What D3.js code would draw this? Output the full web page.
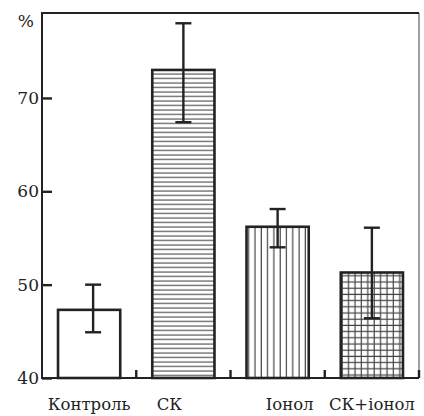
<!DOCTYPE html>
<html lang="uk">
<head>
<meta charset="UTF-8">
<title>Bar chart</title>
<script src="https://cdnjs.cloudflare.com/ajax/libs/d3/7.8.5/d3.min.js"></script>
<style>
  body { margin: 0; background: #fff; }
  svg { display: block; }
</style>
</head>
<body>
<svg id="viz"></svg>
<script>
const categories = ['Контроль', 'СК', 'Іонол', 'СК+іонол'];
const values = [47.3, 73.0, 56.2, 51.3];
const errLow = [44.9, 67.4, 54.0, 46.4];
const errHigh = [50.0, 78.0, 58.1, 56.1];
const yTicks = [40, 50, 60, 70];
const patterns = ['none', 'hlines', 'vlines', 'grid'];

const width = 424, height = 416;
const mLeft = 42, mRight = 419, mTop = 13, mBottom = 378;
const serif = 'DejaVu Serif';
// the labels in the original figure are not exactly centred under the bars
const labelShift = [0, -14, 12, 0];
const errShift = [4, 0, 0, 0];

const svg = d3.select('#viz').attr('width', width).attr('height', height);

// hatch patterns
const defs = svg.append('defs');
defs.append('pattern').attr('id', 'hlines')
  .attr('patternUnits', 'userSpaceOnUse').attr('width', 8).attr('height', 4.5)
  .append('line').attr('x1', 0).attr('x2', 8).attr('y1', 2).attr('y2', 2)
  .attr('stroke', '#555').attr('stroke-width', 1.2);
defs.append('pattern').attr('id', 'vlines')
  .attr('patternUnits', 'userSpaceOnUse').attr('width', 6.3).attr('height', 8)
  .append('line').attr('x1', 3).attr('x2', 3).attr('y1', 0).attr('y2', 8)
  .attr('stroke', '#444').attr('stroke-width', 1.2);
const g = defs.append('pattern').attr('id', 'grid')
  .attr('patternUnits', 'userSpaceOnUse').attr('width', 6.4).attr('height', 6.2);
g.append('line').attr('x1', 3).attr('x2', 3).attr('y1', 0).attr('y2', 6.2)
  .attr('stroke', '#444').attr('stroke-width', 1.2);
g.append('line').attr('x1', 0).attr('x2', 6.4).attr('y1', 3).attr('y2', 3)
  .attr('stroke', '#444').attr('stroke-width', 1.2);

const x = d3.scaleBand().domain(categories).range([mLeft, mRight]).paddingInner(0.34).paddingOuter(0.17);
const xBand = d3.scaleBand().domain(categories).range([mLeft, mRight]);
const y = d3.scaleLinear().domain([40, 79.1]).range([mBottom, mTop]);

// frame: dark left/top/bottom, lighter right edge
svg.append('line').attr('x1', mRight).attr('x2', mRight).attr('y1', mTop).attr('y2', mBottom)
  .attr('stroke', '#888').attr('stroke-width', 1.6);
svg.append('path')
  .attr('d', `M${mRight},${mTop}H${mLeft}V${mBottom}H${mRight}`)
  .attr('fill', 'none').attr('stroke', '#222').attr('stroke-width', 2);

// bars
svg.selectAll('rect.bar')
  .data(categories)
  .enter().append('rect')
  .attr('class', 'bar')
  .attr('x', d => x(d))
  .attr('y', (d, i) => y(values[i]))
  .attr('width', x.bandwidth())
  .attr('height', (d, i) => y(40) - y(values[i]))
  .attr('fill', (d, i) => patterns[i] === 'none' ? '#fff' : `url(#${patterns[i]})`)
  .attr('stroke', '#222').attr('stroke-width', 2.6);

// error bars
const eb = svg.selectAll('g.err').data(categories).enter().append('g').attr('class', 'err')
  .attr('stroke', '#222').attr('stroke-width', 2.4);
const cx = (d, i) => x(d) + x.bandwidth() / 2 + errShift[i];
eb.append('line')
  .attr('x1', cx).attr('x2', cx)
  .attr('y1', (d, i) => y(errLow[i])).attr('y2', (d, i) => y(errHigh[i]));
eb.append('line')
  .attr('x1', (d, i) => cx(d, i) - 8).attr('x2', (d, i) => cx(d, i) + 8)
  .attr('y1', (d, i) => y(errHigh[i])).attr('y2', (d, i) => y(errHigh[i]));
eb.append('line')
  .attr('x1', (d, i) => cx(d, i) - 8).attr('x2', (d, i) => cx(d, i) + 8)
  .attr('y1', (d, i) => y(errLow[i])).attr('y2', (d, i) => y(errLow[i]));

// y axis with inward ticks
const yAxis = d3.axisLeft(y).tickValues(yTicks).tickSize(-10).tickPadding(3).tickFormat(d3.format('d'));
const ya = svg.append('g').attr('transform', `translate(${mLeft},0)`).call(yAxis)
  .attr('font-family', serif);
ya.select('.domain').remove();
ya.selectAll('line').attr('stroke', '#222').attr('stroke-width', 2.4);
ya.selectAll('text').attr('font-size', 17).attr('fill', '#222');

// x axis: labels under bars
const xAxis = d3.axisBottom(x).tickSize(0).tickPadding(20);
const xa = svg.append('g').attr('transform', `translate(0,${mBottom})`).call(xAxis)
  .attr('font-family', serif);
xa.select('.domain').remove();
xa.selectAll('text').attr('font-size', 16.5).attr('fill', '#222')
  .attr('dx', (d, i) => labelShift[i]);

// small inward ticks between categories
svg.append('g').selectAll('line')
  .data(categories.slice(1).concat(['end']))
  .enter().append('line')
  .attr('x1', d => d === 'end' ? mRight : xBand(d))
  .attr('x2', d => d === 'end' ? mRight : xBand(d))
  .attr('y1', mBottom).attr('y2', mBottom - 8)
  .attr('stroke', '#222').attr('stroke-width', 2.4);

// unit
svg.append('text')
  .attr('x', mLeft - 8).attr('y', mTop + 14)
  .attr('text-anchor', 'end')
  .attr('font-family', serif)
  .attr('font-size', 17)
  .attr('fill', '#222')
  .text('%');
</script>
</body>
</html>
